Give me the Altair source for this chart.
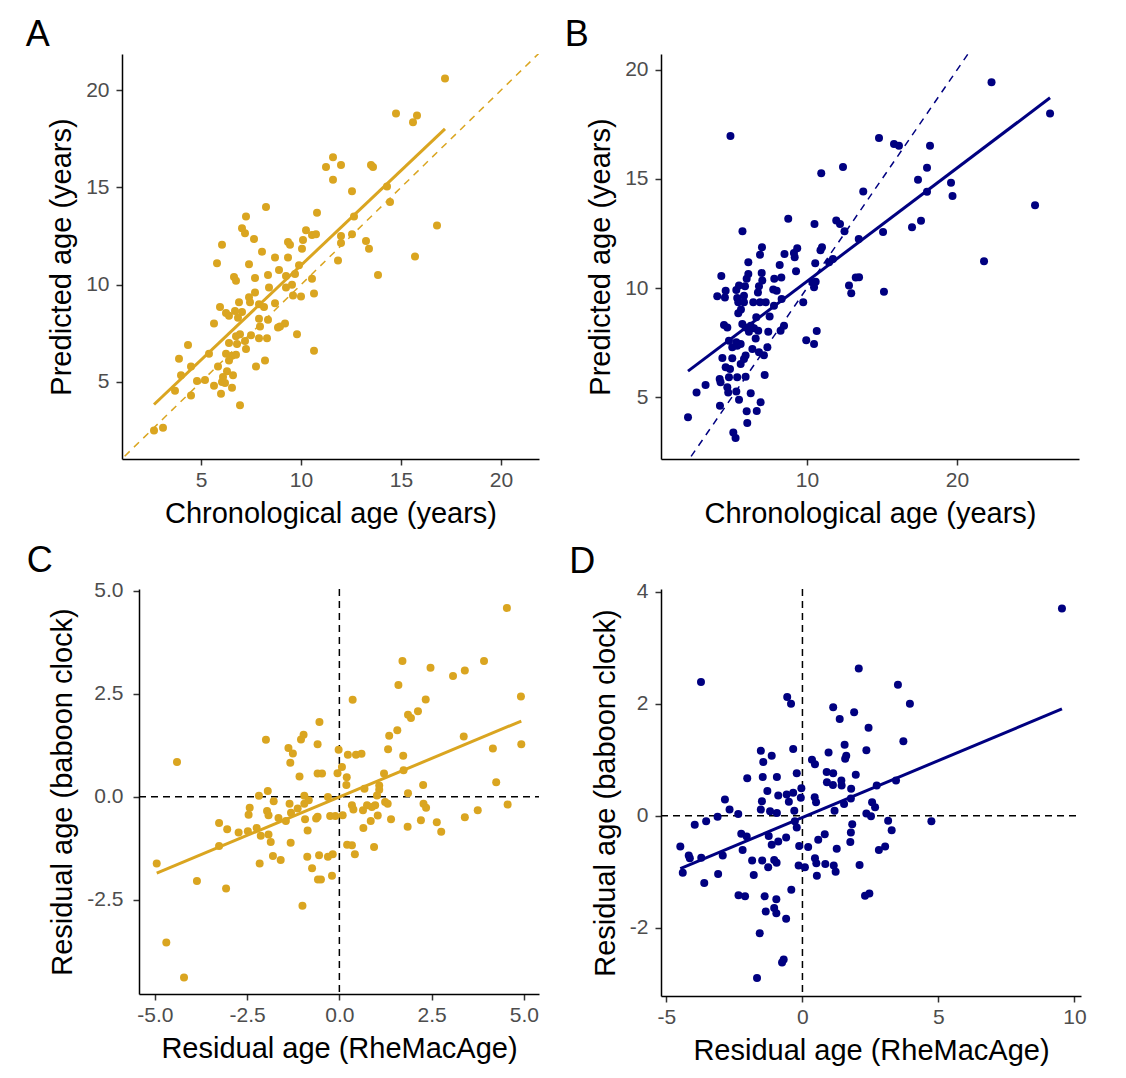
import altair as alt
import pandas as pd

GOLD = "#DAA520"
NAVY = "#000080"
FONT = "Liberation Sans"

# ---------------- Panel A (gold): chronological vs predicted age
a_x = [17.2, 14.75, 15.8, 15.6, 11.6, 11.25, 12.0, 11.6, 13.5, 13.6,
       12.55, 14.3, 14.45, 12.65, 16.8, 12.0, 12.0, 12.55, 13.25, 13.4,
       11.85, 15.7, 13.85, 8.25, 7.25, 10.8, 7.05, 7.2, 7.65, 10.25,
       10.55, 10.75, 10.1, 6.05, 9.35, 9.45, 10.05, 8.05, 8.7, 9.35,
       5.8, 7.4, 8.9, 6.65, 6.75, 7.7, 8.35, 9.25, 9.7, 9.9,
       10.55, 8.4, 9.55, 9.25, 7.7, 7.4, 6.9, 7.45, 7.9, 8.15,
       8.7, 9.6, 10.0, 10.65, 5.95, 6.25, 6.4, 6.7, 7.05, 6.85,
       7.9, 8.35, 5.65, 7.95, 8.85, 8.95, 9.2, 6.95, 6.75, 7.5,
       7.9, 8.3, 9.8, 7.2, 6.4, 6.8, 4.35, 7.25, 5.4, 6.25,
       6.55, 6.75, 6.4, 10.65, 3.9, 8.2, 7.75, 4.5, 5.85, 6.3,
       6.6, 4.0, 6.1, 4.8, 5.2, 6.05, 6.2, 5.65, 6.55, 3.7,
       6.0, 4.5, 6.95, 2.65, 3.1]
a_y = [20.6, 18.8, 18.7, 18.35, 16.55, 16.05, 16.15, 15.4, 16.15, 16.05,
       14.8, 15.05, 14.25, 13.5, 13.05, 12.5, 12.15, 12.6, 12.25, 11.85,
       11.25, 11.45, 10.5, 14.0, 13.5, 13.7, 12.9, 12.65, 12.35, 12.8,
       12.55, 12.6, 12.3, 12.05, 12.2, 12.05, 11.85, 11.7, 11.4, 11.4,
       11.1, 11.05, 10.75, 10.4, 10.2, 10.35, 10.5, 10.45, 10.55, 11.0,
       10.3, 9.85, 10.0, 9.85, 9.6, 9.35, 9.1, 9.1, 9.0, 8.85,
       9.05, 9.45, 9.4, 9.55, 8.85, 8.55, 8.4, 8.65, 8.6, 8.3,
       8.25, 8.2, 8.0, 7.85, 7.8, 7.85, 8.0, 7.45, 7.35, 7.4,
       7.25, 7.25, 7.45, 7.1, 7.0, 6.95, 6.9, 6.7, 6.45, 6.45,
       6.35, 6.4, 6.1, 6.6, 6.2, 6.1, 5.8, 5.8, 5.8, 5.55,
       5.35, 5.35, 5.25, 5.05, 5.1, 5.0, 4.95, 4.8, 4.7, 4.55,
       4.4, 4.3, 3.8, 2.5, 2.65]

# ---------------- Panel B (navy): chronological vs predicted age
b_x = [4.9, 10.95, 12.4, 13.75, 8.75, 5.7, 10.5, 11.95, 12.2, 12.5,
       13.45, 7.0, 6.87, 8.5, 9.35, 9.13, 11.0, 10.9, 22.3, 26.2,
       14.8, 15.8, 16.13, 18.2, 18.0, 17.4, 18.0, 19.6, 19.7, 25.2,
       15.07, 17.0, 17.6, 13.47, 15.13, 21.8, 9.18, 6.09, 8.18, 10.55,
       11.47, 11.73, 4.29, 6.09, 5.98, 6.98, 7.02, 7.82, 8.29, 9.27,
       13.25, 12.8, 12.95, 10.36, 10.58, 10.47, 5.47, 5.29, 5.87, 4.58,
       4.02, 4.53, 6.8, 6.73, 7.75, 7.98, 5.35, 5.8, 5.42, 5.8,
       6.42, 6.87, 7.25, 8.31, 7.8, 9.75, 5.6, 5.42, 6.62, 7.51,
       4.47, 4.69, 5.69, 5.91, 6.25, 6.47, 6.13, 6.75, 7.42, 8.47,
       8.24, 10.65, 9.95, 10.47, 4.8, 5.29, 5.58, 5.02, 5.35, 6.58,
       6.36, 6.8, 7.13, 7.36, 4.36, 5.02, 5.91, 5.8, 5.58, 4.58,
       4.87, 4.8, 4.18, 4.24, 5.35, 5.91, 7.18, 3.24, 2.64, 4.69,
       4.75, 5.29, 6.25, 5.47, 4.2, 6.91, 6.65, 5.98, 6.02, 5.09,
       5.24, 2.07]
b_y = [16.97, 15.26, 15.55, 14.42, 13.18, 12.6, 12.94, 13.09, 12.94, 12.6,
       12.25, 11.87, 11.53, 11.56, 11.82, 11.6, 11.87, 11.73, 19.44, 18.0,
       16.88, 16.6, 16.52, 16.52, 15.52, 14.96, 14.41, 14.83, 14.22, 13.8,
       12.57, 12.79, 13.08, 10.49, 9.83, 11.23, 11.41, 11.18, 11.06, 11.14,
       11.18, 11.33, 10.55, 10.64, 10.42, 10.69, 10.34, 10.42, 10.48, 10.77,
       10.48, 10.11, 9.76, 10.27, 10.29, 10.03, 10.11, 9.91, 10.08, 9.88,
       9.62, 9.57, 10.08, 9.8, 9.93, 9.88, 9.54, 9.65, 9.35, 9.35,
       9.35, 9.35, 9.35, 9.5, 9.19, 9.35, 9.01, 8.84, 8.66, 8.69,
       8.3, 8.19, 8.35, 8.19, 8.27, 8.15, 7.99, 8.04, 7.99, 8.27,
       8.04, 8.03, 7.6, 7.43, 7.58, 7.51, 7.43, 7.28, 7.35, 7.69,
       7.2, 7.05, 6.92, 7.28, 6.79, 6.78, 6.9, 6.75, 6.52, 6.37,
       6.29, 5.91, 5.83, 5.68, 5.91, 5.93, 6.01, 5.55, 5.21, 5.45,
       5.21, 5.26, 5.17, 4.88, 4.6, 4.76, 4.36, 4.35, 3.81, 3.38,
       3.12, 4.07]

# ---------------- Panel C (gold): residual ages
c_x = [-4.4, -4.95, -4.69, -4.21, -3.86, -3.07, -3.26, -3.26, -3.04, -2.73,
       -2.48, -2.43, -2.46, -2.24, -2.13, -2.18, -1.99, -1.94, -1.78, -1.96,
       -1.92, -1.92, -1.86, -2.16, -1.8, -1.59, -1.65, -1.45, -1.38, -1.26,
       -1.33, -1.04, -0.97, -1.08, -1.35, -1.31, -1.13, -0.95, -0.83, -0.95,
       -0.93, -0.86, -1.32, -1.0, -0.87, -0.74, -0.58, -0.5, -0.55, -0.31,
       -0.18, -0.2, -0.59, -0.54, -0.59, -0.47, -0.63, -0.59, -0.31, -0.25,
       -0.11, -0.02, -0.05, 4.54, 1.71, 2.47, 1.6, 3.08, 3.4, 3.92,
       0.36, 4.92, 2.34, 1.86, 1.94, 2.13, 1.35, 1.57, 3.37, 1.32,
       1.73, 4.16, 4.93, 0.23, 0.45, 0.6, 0.07, 0.2, 0.19, 1.21,
       1.74, 0.68, 1.08, 1.08, 2.27, 4.25, 1.86, 1.02, 0.34, 0.38,
       0.64, 0.75, 0.97, 0.88, 1.24, 1.31, 2.28, 2.35, 4.56, 0.09,
       1.04, 1.4, 0.85, 0.65, 1.85, 2.21, 2.64, 2.76, 3.4, 3.75,
       0.21, 0.34, 0.42, 0.94]
c_y = [0.84, -1.62, -3.54, -4.39, -2.05, -2.23, -0.64, -1.2, -0.79, -0.87,
       -0.84, -0.27, -0.44, -0.76, -0.95, 0.02, 1.38, 0.14, -0.11, -0.35,
       -0.45, -0.92, -1.1, -1.62, -1.44, -1.54, -0.52, -0.59, 1.18, 1.05,
       0.82, 1.39, 1.5, 0.49, -0.17, -0.39, -0.29, 0.02, -0.09, -0.17,
       -0.55, -0.82, -1.12, -2.65, -1.46, -1.74, -2.01, -2.01, -1.42, -1.46,
       -1.4, -1.92, 1.27, 1.81, 0.56, 0.56, -0.53, -0.49, -0.01, -0.47,
       -0.47, 1.14, 0.57, 4.58, 3.29, 3.13, 2.71, 2.93, 3.06, 3.29,
       2.35, 2.43, 2.36, 1.99, 1.91, 2.07, 1.48, 1.61, 1.46, 1.15,
       0.99, 1.17, 1.27, 1.02, 1.02, 1.04, 0.72, 0.47, 0.28, 0.56,
       0.64, 0.19, 0.27, 0.17, 0.28, 0.35, 0.08, 0.03, -0.21, -0.31,
       -0.33, -0.21, -0.21, -0.25, -0.13, -0.17, -0.17, -0.27, -0.19, -0.45,
       -0.46, -0.55, -0.59, -0.76, -0.73, -0.57, -0.62, -0.85, -0.5, -0.33,
       -1.17, -1.18, -1.4, -1.22]

# ---------------- Panel D (navy): residual ages
d_x = [-3.73, -0.56, -0.42, 2.07, 1.13, 1.9, 1.37, 1.55, 1.61, 1.57,
       0.96, -1.53, -1.44, -1.13, -0.34, 0.35, 0.46, -2.03, -1.46, -0.94,
       -0.21, 0.89, 1.13, 0.9, 1.12, 1.43, 1.44, 1.96, 1.79, -1.29,
       -0.89, -0.58, -0.5, -0.34, -0.04, -0.06, 0.45, 0.5, 1.78, 1.53,
       -2.85, -2.68, -2.36, -3.12, -3.54, -3.96, -1.49, -1.53, -1.19, -0.94,
       -0.3, -0.28, -0.21, 1.18, 1.83, 1.78, 1.76, -2.25, -2.05, -2.2,
       -1.24, -1.13, -0.89, -0.6, -4.49, -4.18, -4.14, -3.72, -2.93, -4.4,
       -3.61, -3.1, -1.85, -1.48, -1.26, -1.79, -1.04, -0.95, -0.12, 0.21,
       0.58, 0.82, 1.26, -0.14, 0.09, 0.46, 0.51, 0.53, 0.84, 1.15,
       1.22, 2.1, -0.41, -2.35, -2.11, -1.39, -0.96, -1.35, -1.04, -0.96,
       -0.6, -1.57, -0.75, -0.69, -1.67, 9.54, 3.51, 3.95, 2.43, 3.71,
       2.35, 2.73, 3.44, 2.56, 2.67, 2.35, 2.52, 3.15, 3.28, 4.74,
       2.81, 3.04, 2.3, 2.46]
d_y = [2.39, 2.12, 2.0, 2.63, 1.94, 1.85, 1.73, 1.27, 1.07, 1.02,
       1.13, 1.16, 0.96, 1.07, 1.19, 1.0, 0.92, 0.67, 0.69, 0.69,
       0.76, 0.78, 0.76, 0.6, 0.55, 0.63, 0.54, 0.73, 0.48, 0.44,
       0.36, 0.38, 0.25, 0.41, 0.49, 0.32, 0.33, 0.24, 0.31, 0.21,
       0.29, 0.11, 0.03, -0.02, -0.1, -0.16, 0.26, 0.11, 0.08, 0.05,
       0.09, -0.1, -0.21, 0.09, -0.15, -0.3, -0.47, -0.32, -0.37, -0.61,
       -0.36, -0.52, -0.46, -0.39, -0.55, -0.71, -0.76, -0.75, -0.71, -1.02,
       -1.2, -1.04, -0.8, -0.8, -0.92, -1.06, -0.79, -0.84, -0.54, -0.56,
       -0.43, -0.33, -0.59, -0.89, -0.92, -0.76, -0.85, -1.07, -0.86, -0.89,
       -1.0, -0.88, -1.32, -1.42, -1.44, -1.44, -1.49, -1.71, -1.65, -1.74,
       -1.84, -2.1, -2.62, -2.57, -2.9, 3.7, 2.34, 2.0, 1.57, 1.33,
       1.17, 0.54, 0.63, 0.24, 0.15, 0.04, -0.01, -0.09, -0.26, -0.1,
       -0.61, -0.55, -1.43, -1.39]

identity_ends = [-10, 40]
zero_line = [0]

a_ticks = [5, 10, 15, 20]
b_xticks = [10, 20]
b_yticks = [5, 10, 15, 20]
c_xticks = [-5.0, -2.5, 0.0, 2.5, 5.0]
c_yticks = [-2.5, 0.0, 2.5, 5.0]
d_xticks = [-5, 0, 5, 10]
d_yticks = [-2, 0, 2, 4]

MINUS_FIX = "replace(datum.label, '\u2212', '-')"


def panel(xs, ys, color, label, xdom, ydom, xticks, yticks, xtitle, ytitle,
          w, h, fmt, identity=False, cross=False, ypad=7, inset=0):
    df = pd.DataFrame({"x": xs, "y": ys})
    xscale = alt.Scale(domain=xdom, nice=False, zero=False)
    if inset:
        xscale = alt.Scale(domain=xdom, nice=False, zero=False, range=[inset, w])
    yaxis_kw = dict(values=yticks, format=fmt, title=ytitle,
                    labelExpr=MINUS_FIX, labelPadding=ypad)
    if inset:
        yaxis_kw["offset"] = -inset
    xenc = alt.X("x:Q", scale=xscale,
                 axis=alt.Axis(values=xticks, format=fmt, title=xtitle,
                               labelExpr=MINUS_FIX))
    yenc = alt.Y("y:Q", scale=alt.Scale(domain=ydom, nice=False, zero=False),
                 axis=alt.Axis(**yaxis_kw))
    layers = []
    if cross:
        zdf = pd.DataFrame({"v": zero_line})
        layers.append(alt.Chart(zdf).mark_rule(color="black", strokeWidth=1.5,
                                               strokeDash=[7, 5])
                      .encode(y="v:Q", x=alt.X(datum=xdom[0]),
                              x2=alt.X2(datum=xdom[1])))
        layers.append(alt.Chart(zdf).mark_rule(color="black", strokeWidth=1.5,
                                               strokeDash=[7, 5]).encode(x="v:Q"))
    pts = alt.Chart(df).mark_circle(size=64, color=color, opacity=1).encode(x=xenc, y=yenc)
    layers.append(pts)
    if identity:
        idf = pd.DataFrame({"x": identity_ends, "y": identity_ends})
        layers.append(alt.Chart(idf).mark_line(color=color, strokeWidth=1.5,
                                               strokeDash=[7, 6], clip=True)
                      .encode(x="x:Q", y="y:Q"))
    fit = (alt.Chart(df).transform_regression("x", "y")
           .mark_line(color=color, strokeWidth=3)
           .encode(x="x:Q", y="y:Q"))
    layers.append(fit)
    return alt.layer(*layers).properties(
        width=w, height=h,
        title=alt.TitleParams(text=label, anchor="start", frame="bounds",
                              fontSize=36, fontWeight="normal", font=FONT,
                              color="black", offset=0, dx=-22),
    )


pA = panel(a_x, a_y, GOLD, "A", [1.05, 21.9], [1.04, 21.86], a_ticks, a_ticks,
           "Chronological age (years)", "Predicted age (years)", 417, 405, "d",
           identity=True)
pB = panel(b_x, b_y, NAVY, "B", [0.27, 28.13], [2.16, 20.73], b_xticks, b_yticks,
           "Chronological age (years)", "Predicted age (years)", 418, 405, "d",
           identity=True)
pC = panel(c_x, c_y, GOLD, "C", [-5.43, 5.41], [-4.79, 5.04], c_xticks, c_yticks,
           "Residual age (RheMacAge)", "Residual age (baboon clock)", 417, 405, ".1f",
           cross=True, ypad=10, inset=17)
pD = panel(d_x, d_y, NAVY, "D", [-5.2, 10.24], [-3.22, 4.05], d_xticks, d_yticks,
           "Residual age (RheMacAge)", "Residual age (baboon clock)", 420, 407, "d",
           cross=True)

chart = (
    alt.concat(pA, pB, pC, pD, columns=2,
               spacing={"row": 14, "column": 24})
    .properties(padding={"left": 25, "top": 17, "right": 5, "bottom": 5},
                background="white")
    .configure_view(stroke=None)
    .configure_axis(
        grid=False,
        domainColor="black", domainWidth=1.5,
        tickColor="#333333", tickWidth=1.5, tickSize=6,
        labelColor="#4D4D4D", labelFontSize=21, labelFont=FONT,
        labelFlush=False, labelOverlap=False, labelPadding=4,
        titleFont=FONT, titleFontSize=29, titleFontWeight="normal",
        titleColor="black", titlePadding=9,
    )
)

chart.save("out.html", embed_options={"renderer": "svg", "actions": False})
